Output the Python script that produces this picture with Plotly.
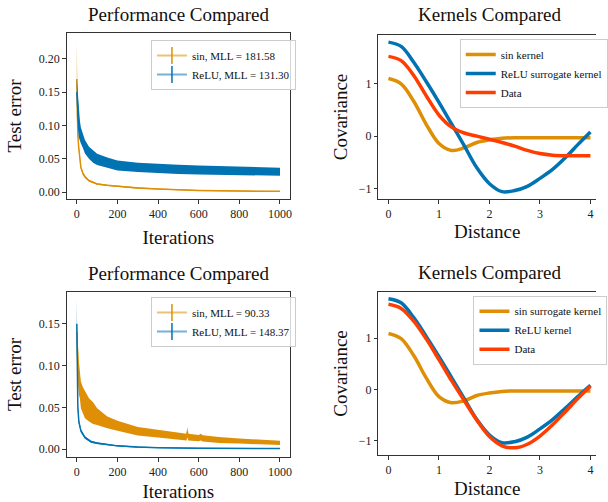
import numpy as np
import plotly.graph_objects as go

# ---------------- data ----------------
# Performance (top): sin vs ReLU test error, mean and error-bar half width
it_top_sin = [0, 2, 5, 10, 15, 20, 30, 40, 60, 80, 100, 150, 200, 300, 400, 500, 600, 800, 1000]
top_sin_mean = [0.17, 0.12, 0.085, 0.065, 0.05, 0.037, 0.028, 0.023, 0.017, 0.014, 0.012, 0.010, 0.0085,
                0.006, 0.0045, 0.0032, 0.0024, 0.0015, 0.001]
top_sin_err = [0.055, 0.02, 0.008, 0.004, 0.003, 0.0025, 0.002, 0.0018, 0.0015, 0.0013, 0.0012, 0.0011, 0.001,
               0.001, 0.0009, 0.0008, 0.0008, 0.0007, 0.0007]

it_top_relu = [0, 2, 5, 10, 15, 20, 30, 40, 60, 80, 100, 150, 200, 300, 400, 500, 600, 800, 1000]
top_relu_mean = [0.15, 0.135, 0.118, 0.1, 0.092, 0.085, 0.076, 0.068, 0.059, 0.053, 0.049, 0.044, 0.040,
                 0.037, 0.035, 0.034, 0.033, 0.0315, 0.0305]
top_relu_err = [0.02, 0.025, 0.022, 0.018, 0.015, 0.012, 0.010, 0.010, 0.009, 0.009, 0.0085, 0.008, 0.0075,
                0.007, 0.007, 0.007, 0.0068, 0.0064, 0.006]

# Performance (bottom)
it_bot_sin = [0, 2, 5, 10, 15, 20, 30, 40, 60, 80, 100, 150, 200, 300, 400, 500, 540, 544, 548,
              600, 610, 620, 700, 800, 900, 1000]
bot_sin_mean = [0.14, 0.12, 0.10, 0.085, 0.077, 0.065, 0.058, 0.053, 0.047, 0.043, 0.039, 0.032, 0.028,
                0.0215, 0.0185, 0.015, 0.0145, 0.021, 0.0145, 0.0133, 0.0145, 0.013, 0.011, 0.0098,
                0.0087, 0.0075]
bot_sin_err = [0.01, 0.02, 0.02, 0.02, 0.016, 0.016, 0.016, 0.016, 0.014, 0.013, 0.010, 0.007, 0.006,
               0.005, 0.0045, 0.004, 0.004, 0.006, 0.004, 0.0038, 0.004, 0.0037, 0.0035, 0.003,
               0.0028, 0.0025]

it_bot_relu = [0, 2, 5, 10, 20, 40, 70, 100, 150, 200, 300, 400, 600, 800, 1000]
bot_relu_mean = [0.15, 0.09, 0.05, 0.033, 0.022, 0.014, 0.009, 0.0072, 0.0053, 0.004, 0.0025, 0.0017,
                 0.0011, 0.0009, 0.0008]
bot_relu_err = [0.03, 0.01, 0.005, 0.003, 0.002, 0.0015, 0.0012, 0.001, 0.0009, 0.0008, 0.0007, 0.0006,
                0.0006, 0.0005, 0.0005]

# Kernels
dist = [0, 0.25, 0.5, 0.75, 1.0, 1.25, 1.5, 1.75, 2.0, 2.25, 2.5, 2.75, 3.0, 3.25, 3.5, 3.75, 4.0]
sin_kernel = [1.09, 0.99, 0.66, 0.22, -0.14, -0.27, -0.22, -0.12, -0.07, -0.04, -0.03, -0.03, -0.03,
              -0.03, -0.03, -0.03, -0.03]
relu_surrogate = [1.78, 1.70, 1.40, 1.03, 0.64, 0.23, -0.18, -0.60, -0.90, -1.05, -1.03, -0.95, -0.80,
                  -0.63, -0.41, -0.16, 0.08]
data_top = [1.51, 1.43, 1.15, 0.76, 0.40, 0.17, 0.06, 0.0, -0.06, -0.12, -0.19, -0.27, -0.33, -0.36,
            -0.37, -0.37, -0.37]
sin_surrogate = [1.09, 0.99, 0.66, 0.22, -0.14, -0.26, -0.22, -0.12, -0.07, -0.04, -0.03, -0.03, -0.03,
                 -0.03, -0.03, -0.03, -0.03]
relu_kernel = [1.77, 1.69, 1.40, 1.03, 0.64, 0.23, -0.18, -0.59, -0.89, -1.04, -1.02, -0.93, -0.77,
               -0.59, -0.37, -0.14, 0.08]
data_bot = [1.66, 1.58, 1.33, 0.98, 0.58, 0.17, -0.22, -0.60, -0.92, -1.10, -1.14, -1.07, -0.91,
            -0.69, -0.44, -0.18, 0.06]

perf_ticks = [0, 200, 400, 600, 800, 1000]
dist_ticks = [0, 1, 2, 3, 4]

ORANGE = "#DE8F05"
BLUE = "#0173B2"
RED = "#FF3D00"
FONT = "Liberation Serif"

def rgba(hexc, a):
    h = hexc.lstrip("#")
    return "rgba(%d,%d,%d,%.2f)" % (int(h[0:2], 16), int(h[2:4], 16), int(h[4:6], 16), a)

fig = go.Figure()

def band(x, m, e, color, name, xa, ya, leg):
    m = np.array(m); e = np.array(e)
    fig.add_trace(go.Scatter(x=x, y=m - e, mode="lines", line=dict(width=0, color=color),
                             showlegend=False, hoverinfo="skip", xaxis=xa, yaxis=ya))
    fig.add_trace(go.Scatter(x=x, y=m + e, mode="lines", line=dict(width=0, color=color),
                             fill="tonexty", fillcolor=color, showlegend=False, hoverinfo="skip",
                             xaxis=xa, yaxis=ya))
    fig.add_trace(go.Scatter(x=x, y=m, mode="lines", showlegend=False,
                             line=dict(width=1.5, color=color),
                             xaxis=xa, yaxis=ya, hoverinfo="skip"))
    # legend entry (errorbar-style symbol)
    fig.add_trace(go.Scatter(x=[None], y=[None], mode="lines+markers", name=name,
                             line=dict(width=2, color=rgba(color, 0.55)),
                             marker=dict(symbol="line-ns-open", size=12, color=color,
                                         line=dict(width=1.5, color=color)),
                             xaxis=xa, yaxis=ya, legend=leg))

band(it_top_sin, top_sin_mean, top_sin_err, ORANGE, "sin, MLL = 181.58", "x", "y", "legend")
band(it_top_relu, top_relu_mean, top_relu_err, BLUE, "ReLU, MLL = 131.30", "x", "y", "legend")
band(it_bot_sin, bot_sin_mean, bot_sin_err, ORANGE, "sin, MLL = 90.33", "x3", "y3", "legend3")
band(it_bot_relu, bot_relu_mean, bot_relu_err, BLUE, "ReLU, MLL = 148.37", "x3", "y3", "legend3")

def kline(x, y, color, name, xa, ya, leg):
    fig.add_trace(go.Scatter(x=x, y=y, mode="lines", name=name,
                             line=dict(width=3.5, color=color, shape="spline", smoothing=1.0),
                             xaxis=xa, yaxis=ya, legend=leg))

kline(dist, sin_kernel, ORANGE, "sin kernel", "x2", "y2", "legend2")
kline(dist, relu_surrogate, BLUE, "ReLU surrogate kernel", "x2", "y2", "legend2")
kline(dist, data_top, RED, "Data", "x2", "y2", "legend2")
kline(dist, sin_surrogate, ORANGE, "sin surrogate kernel", "x4", "y4", "legend4")
kline(dist, relu_kernel, BLUE, "ReLU kernel", "x4", "y4", "legend4")
kline(dist, data_bot, RED, "Data", "x4", "y4", "legend4")

W, H = 608, 502
def px(v): return v / W
def py(v): return 1 - v / H

axis_common = dict(showline=True, linecolor="#333", linewidth=1, ticks="outside", ticklen=3.5,
                   tickwidth=0.8, tickcolor="#333", showgrid=False, zeroline=False,
                   tickfont=dict(family=FONT, size=12, color="#222"))

def xax(dom, rng, tickvals, title, anchor, standoff, mirror=True):
    d = dict(axis_common)
    d.update(domain=dom, range=rng, tickvals=tickvals, anchor=anchor, mirror=mirror,
             title=dict(text=title, font=dict(family=FONT, size=19, color="#111"), standoff=standoff))
    return d

def yax(dom, rng, tickvals, fmt, title, anchor, standoff, mirror=True):
    d = dict(axis_common)
    d.update(domain=dom, range=rng, tickvals=tickvals, tickformat=fmt, anchor=anchor, mirror=mirror,
             title=dict(text=title, font=dict(family=FONT, size=19, color="#111"), standoff=standoff))
    return d

legend_common = dict(bgcolor="rgba(255,255,255,0.8)", bordercolor="#cccccc", borderwidth=1,
                     font=dict(family=FONT, size=11, color="#111"), xanchor="left", yanchor="top",
                     tracegroupgap=0, traceorder="normal")

title_font = dict(family=FONT, size=19, color="#111")

fig.update_layout(
    width=W, height=H, margin=dict(l=0, r=0, t=0, b=0),
    paper_bgcolor="white", plot_bgcolor="white",
    xaxis=xax([px(68), px(296)], [-50, 1050], perf_ticks, "Iterations", "y", 10),
    yaxis=yax([py(199), py(33)], [-0.0105, 0.239], [0, 0.05, 0.10, 0.15, 0.20], ".2f", "Test error", "x", 12),
    xaxis2=xax([px(386), 1], [-0.2, 4.11], dist_ticks, "Distance", "y2", 2),
    yaxis2=yax([py(199), py(35)], [-1.19, 1.915], [-1, 0, 1], "d", "Covariance", "x2", 6, mirror=False),
    xaxis3=xax([px(68), px(296)], [-50, 1050], perf_ticks, "Iterations", "y3", 11),
    yaxis3=yax([py(457), py(292)], [-0.0093, 0.1878], [0, 0.05, 0.10, 0.15], ".2f", "Test error", "x3", 12),
    xaxis4=xax([px(386), 1], [-0.2, 4.11], dist_ticks, "Distance", "y4", 5),
    yaxis4=yax([py(455), py(292)], [-1.28, 1.90], [-1, 0, 1], "d", "Covariance", "x4", 6, mirror=False),
    legend=dict(legend_common, x=px(154), y=py(40)),
    legend2=dict(legend_common, x=px(469), y=py(39)),
    legend3=dict(legend_common, x=px(154), y=py(297)),
    legend4=dict(legend_common, x=px(483), y=py(295.7)),
    annotations=[
        dict(text="Performance Compared", x=px(182), y=py(15), xref="paper", yref="paper",
             xanchor="center", yanchor="middle", showarrow=False, font=title_font),
        dict(text="Kernels Compared", x=px(499), y=py(15), xref="paper", yref="paper",
             xanchor="center", yanchor="middle", showarrow=False, font=title_font),
        dict(text="Performance Compared", x=px(182), y=py(273), xref="paper", yref="paper",
             xanchor="center", yanchor="middle", showarrow=False, font=title_font),
        dict(text="Kernels Compared", x=px(499), y=py(272), xref="paper", yref="paper",
             xanchor="center", yanchor="middle", showarrow=False, font=title_font),
    ],
)

fig.write_html("out.html")
